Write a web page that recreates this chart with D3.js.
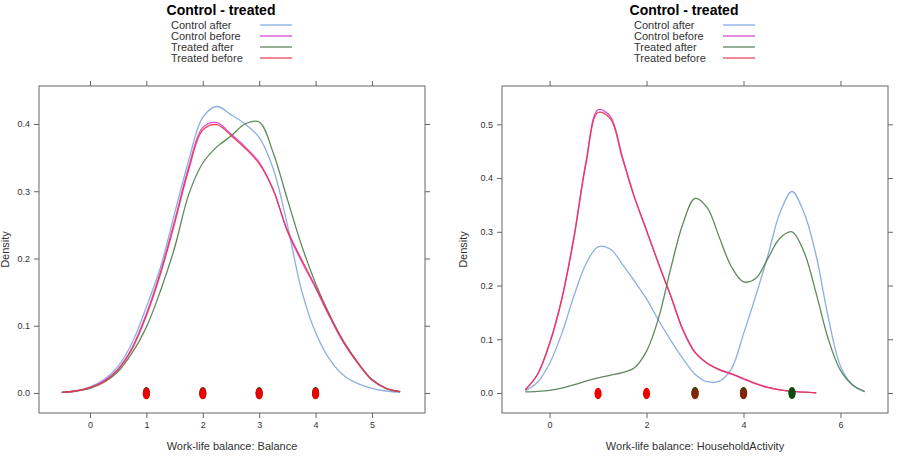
<!DOCTYPE html>
<html>
<head>
<meta charset="utf-8">
<script src="https://cdn.jsdelivr.net/npm/d3@7"></script>
<style>
  html, body { margin: 0; padding: 0; background: #fff; }
  svg { display: block; font-family: "Liberation Sans", Arial, Helvetica, sans-serif; }
</style>
</head>
<body>
<svg id="chart" width="898" height="459"></svg>
<script>
// ---------------- DATA ----------------
const seriesNames = ["Control after", "Control before", "Treated after", "Treated before"];
const seriesColors = ["#7ea6df", "#d63cd6", "#4d7d4d", "#e8364a"];

const chartTitle = "Control - treated";
const yLabel = "Density";

// Panel 1: Balance
const balanceLabel = "Work-life balance: Balance";
const balanceX = [-0.5, -0.25, 0, 0.25, 0.5, 0.75, 1, 1.25, 1.5, 1.75, 2, 2.25, 2.5, 2.75, 3, 3.25, 3.5, 3.75, 4, 4.25, 4.5, 4.75, 5, 5.25, 5.5];
const balanceControlAfter  = [0.001,0.003,0.009,0.020,0.040,0.075,0.128,0.187,0.267,0.346,0.410,0.426,0.414,0.400,0.380,0.333,0.250,0.153,0.090,0.050,0.026,0.014,0.007,0.003,0.001];
const balanceControlBefore = [0.001,0.003,0.008,0.018,0.036,0.068,0.118,0.180,0.256,0.336,0.395,0.402,0.385,0.366,0.343,0.302,0.240,0.196,0.156,0.113,0.074,0.044,0.019,0.007,0.002];
const balanceTreatedAfter  = [0.001,0.003,0.007,0.016,0.032,0.060,0.098,0.152,0.216,0.295,0.342,0.366,0.382,0.400,0.403,0.357,0.288,0.220,0.163,0.116,0.076,0.045,0.020,0.007,0.002];
const balanceTreatedBefore = [0.001,0.003,0.008,0.017,0.035,0.066,0.115,0.177,0.252,0.332,0.391,0.399,0.383,0.364,0.341,0.302,0.242,0.199,0.158,0.115,0.076,0.045,0.020,0.007,0.002];
const balanceRugTreatedAfter  = [1, 2, 3, 4];
const balanceRugTreatedBefore = [1, 2, 3, 4];
const balanceXTicks = [0, 1, 2, 3, 4, 5];
const balanceYTicks = [0, 0.1, 0.2, 0.3, 0.4];

// Panel 2: HouseholdActivity
const householdLabel = "Work-life balance: HouseholdActivity";
const householdX = [-0.5, -0.25, 0, 0.25, 0.5, 0.75, 1, 1.25, 1.5, 1.75, 2, 2.25, 2.5, 2.75, 3, 3.25, 3.5, 3.75, 4, 4.25, 4.5, 4.75, 5, 5.25, 5.5, 5.75, 6, 6.25, 6.5];
const householdControlAfter  = [0.004,0.020,0.055,0.110,0.180,0.240,0.272,0.268,0.240,0.208,0.175,0.135,0.098,0.064,0.035,0.021,0.022,0.045,0.110,0.180,0.255,0.335,0.375,0.335,0.255,0.140,0.050,0.015,0.002];
const householdControlBefore = [0.006,0.035,0.093,0.175,0.290,0.430,0.527,0.515,0.440,0.365,0.303,0.240,0.180,0.117,0.075,0.055,0.043,0.035,0.026,0.017,0.010,0.006,0.003,0.0015,0.0005,null,null,null,null];
const householdTreatedAfter  = [0.002,0.003,0.005,0.009,0.015,0.022,0.028,0.033,0.038,0.047,0.078,0.140,0.232,0.315,0.362,0.345,0.290,0.235,0.207,0.213,0.250,0.288,0.300,0.262,0.185,0.100,0.042,0.015,0.003];
const householdTreatedBefore = [0.006,0.034,0.091,0.173,0.287,0.426,0.522,0.511,0.437,0.364,0.302,0.240,0.181,0.118,0.076,0.056,0.044,0.036,0.027,0.018,0.011,0.006,0.003,0.0015,0.0005,null,null,null,null];
const householdRugTreatedAfter  = [3, 4, 5];
const householdRugTreatedBefore = [1, 2, 3, 4];
const householdXTicks = [0, 2, 4, 6];
const householdYTicks = [0, 0.1, 0.2, 0.3, 0.4, 0.5];

// ---------------- DRAW ----------------
const svg = d3.select("#chart");

const panels = [
  {
    xs: balanceX,
    series: [balanceControlAfter, balanceControlBefore, balanceTreatedAfter, balanceTreatedBefore],
    rugAfter: balanceRugTreatedAfter, rugBefore: balanceRugTreatedBefore, overlayOpacity: 0,
    xTicks: balanceXTicks, yTicks: balanceYTicks, xLabel: balanceLabel,
    left: 39, right: 425, top: 86, bottom: 413,
    xDomain: [-0.904, 5.94], yDomain: [-0.0297, 0.4565],
    titleX: 221, legendTextX: 171, legendLineX: [260, 292], yLabelX: 9
  },
  {
    xs: householdX,
    series: [householdControlAfter, householdControlBefore, householdTreatedAfter, householdTreatedBefore],
    rugAfter: householdRugTreatedAfter, rugBefore: householdRugTreatedBefore, overlayOpacity: 0.5,
    xTicks: householdXTicks, yTicks: householdYTicks, xLabel: householdLabel,
    left: 502, right: 888, top: 86, bottom: 413,
    xDomain: [-0.981, 6.98], yDomain: [-0.0372, 0.5713],
    titleX: 684, legendTextX: 634, legendLineX: [723, 755], yLabelX: 467
  }
];

const axisColor = "#666";
const textColor = "#333";

panels.forEach((p, pi) => {
  const x = d3.scaleLinear().domain(p.xDomain).range([p.left, p.right]);
  const y = d3.scaleLinear().domain(p.yDomain).range([p.bottom, p.top]);
  const g = svg.append("g");

  // Title and legend
  g.append("text")
    .attr("x", p.titleX).attr("y", 15)
    .attr("text-anchor", "middle")
    .attr("font-size", 14).attr("font-weight", "bold").attr("fill", "#000")
    .text(chartTitle);

  seriesNames.forEach((name, i) => {
    const cy = 25 + i * 11;
    g.append("text")
      .attr("x", p.legendTextX).attr("y", cy + 4)
      .attr("font-size", 11).attr("fill", textColor)
      .text(name);
    g.append("line")
      .attr("x1", p.legendLineX[0]).attr("x2", p.legendLineX[1])
      .attr("y1", cy).attr("y2", cy)
      .attr("stroke", seriesColors[i]).attr("stroke-width", 1.2);
  });

  // Clip
  const clipId = "clip" + pi;
  svg.append("clipPath").attr("id", clipId)
    .append("rect")
    .attr("x", p.left).attr("y", p.top)
    .attr("width", p.right - p.left).attr("height", p.bottom - p.top);

  // Axes
  const tickFmtY = d3.format(".1f");
  const bottomAxis = d3.axisBottom(x).tickValues(p.xTicks).tickSize(5).tickPadding(4).tickFormat(d3.format("d"));
  const topAxis = d3.axisTop(x).tickValues(p.xTicks).tickSize(5).tickFormat("");
  const leftAxis = d3.axisLeft(y).tickValues(p.yTicks).tickSize(5).tickPadding(4).tickFormat(tickFmtY);
  const rightAxis = d3.axisRight(y).tickValues(p.yTicks).tickSize(5).tickFormat("");

  function styleAxis(sel) {
    sel.select(".domain").remove();
    sel.selectAll(".tick line").attr("stroke", axisColor);
    sel.selectAll(".tick text").attr("fill", textColor).attr("font-size", 9)
      .attr("font-family", "'Liberation Sans', Arial, sans-serif");
  }
  g.append("g").attr("transform", `translate(0,${p.bottom})`).call(bottomAxis).call(styleAxis);
  g.append("g").attr("transform", `translate(0,${p.top})`).call(topAxis).call(styleAxis);
  g.append("g").attr("transform", `translate(${p.left},0)`).call(leftAxis).call(styleAxis);
  g.append("g").attr("transform", `translate(${p.right},0)`).call(rightAxis).call(styleAxis);

  // Frame
  g.append("rect")
    .attr("x", p.left).attr("y", p.top)
    .attr("width", p.right - p.left).attr("height", p.bottom - p.top)
    .attr("fill", "none").attr("stroke", axisColor).attr("stroke-width", 1);

  // Axis labels
  g.append("text")
    .attr("x", (p.left + p.right) / 2).attr("y", 450)
    .attr("text-anchor", "middle").attr("font-size", 11).attr("fill", textColor)
    .text(p.xLabel);
  g.append("text")
    .attr("transform", `translate(${p.yLabelX},${(p.top + p.bottom) / 2}) rotate(-90)`)
    .attr("text-anchor", "middle").attr("font-size", 11).attr("fill", textColor)
    .text(yLabel);

  // Density curves
  const line = d3.line()
    .defined(d => d[1] !== null)
    .x(d => x(d[0]))
    .y(d => y(d[1]))
    .curve(d3.curveCatmullRom.alpha(0.5));

  const plot = g.append("g").attr("clip-path", `url(#${clipId})`);
  p.series.forEach((vals, i) => {
    const pts = p.xs.map((xv, k) => [xv, vals[k]]);
    plot.append("path")
      .datum(pts)
      .attr("d", line)
      .attr("fill", "none")
      .attr("stroke", seriesColors[i])
      .attr("stroke-width", 1.3)
      .attr("stroke-opacity", 0.9);
  });

  // Rug points (jittered markers at density 0)
  plot.selectAll(".rugA").data(p.rugAfter).enter().append("ellipse")
    .attr("cx", d => x(d)).attr("cy", y(0))
    .attr("rx", 3.6).attr("ry", 6)
    .attr("fill", "#0f4d0f");
  plot.selectAll(".rugB").data(p.rugBefore).enter().append("ellipse")
    .attr("cx", d => x(d)).attr("cy", y(0) + 0.5)
    .attr("rx", 3.6).attr("ry", 5.8)
    .attr("fill", "#ee0000");
  plot.selectAll(".rugC").data(p.rugAfter).enter().append("ellipse")
    .attr("cx", d => x(d)).attr("cy", y(0))
    .attr("rx", 3.6).attr("ry", 6)
    .attr("fill", "#0f4d0f")
    .attr("fill-opacity", p.overlayOpacity);
});
</script>
</body>
</html>
